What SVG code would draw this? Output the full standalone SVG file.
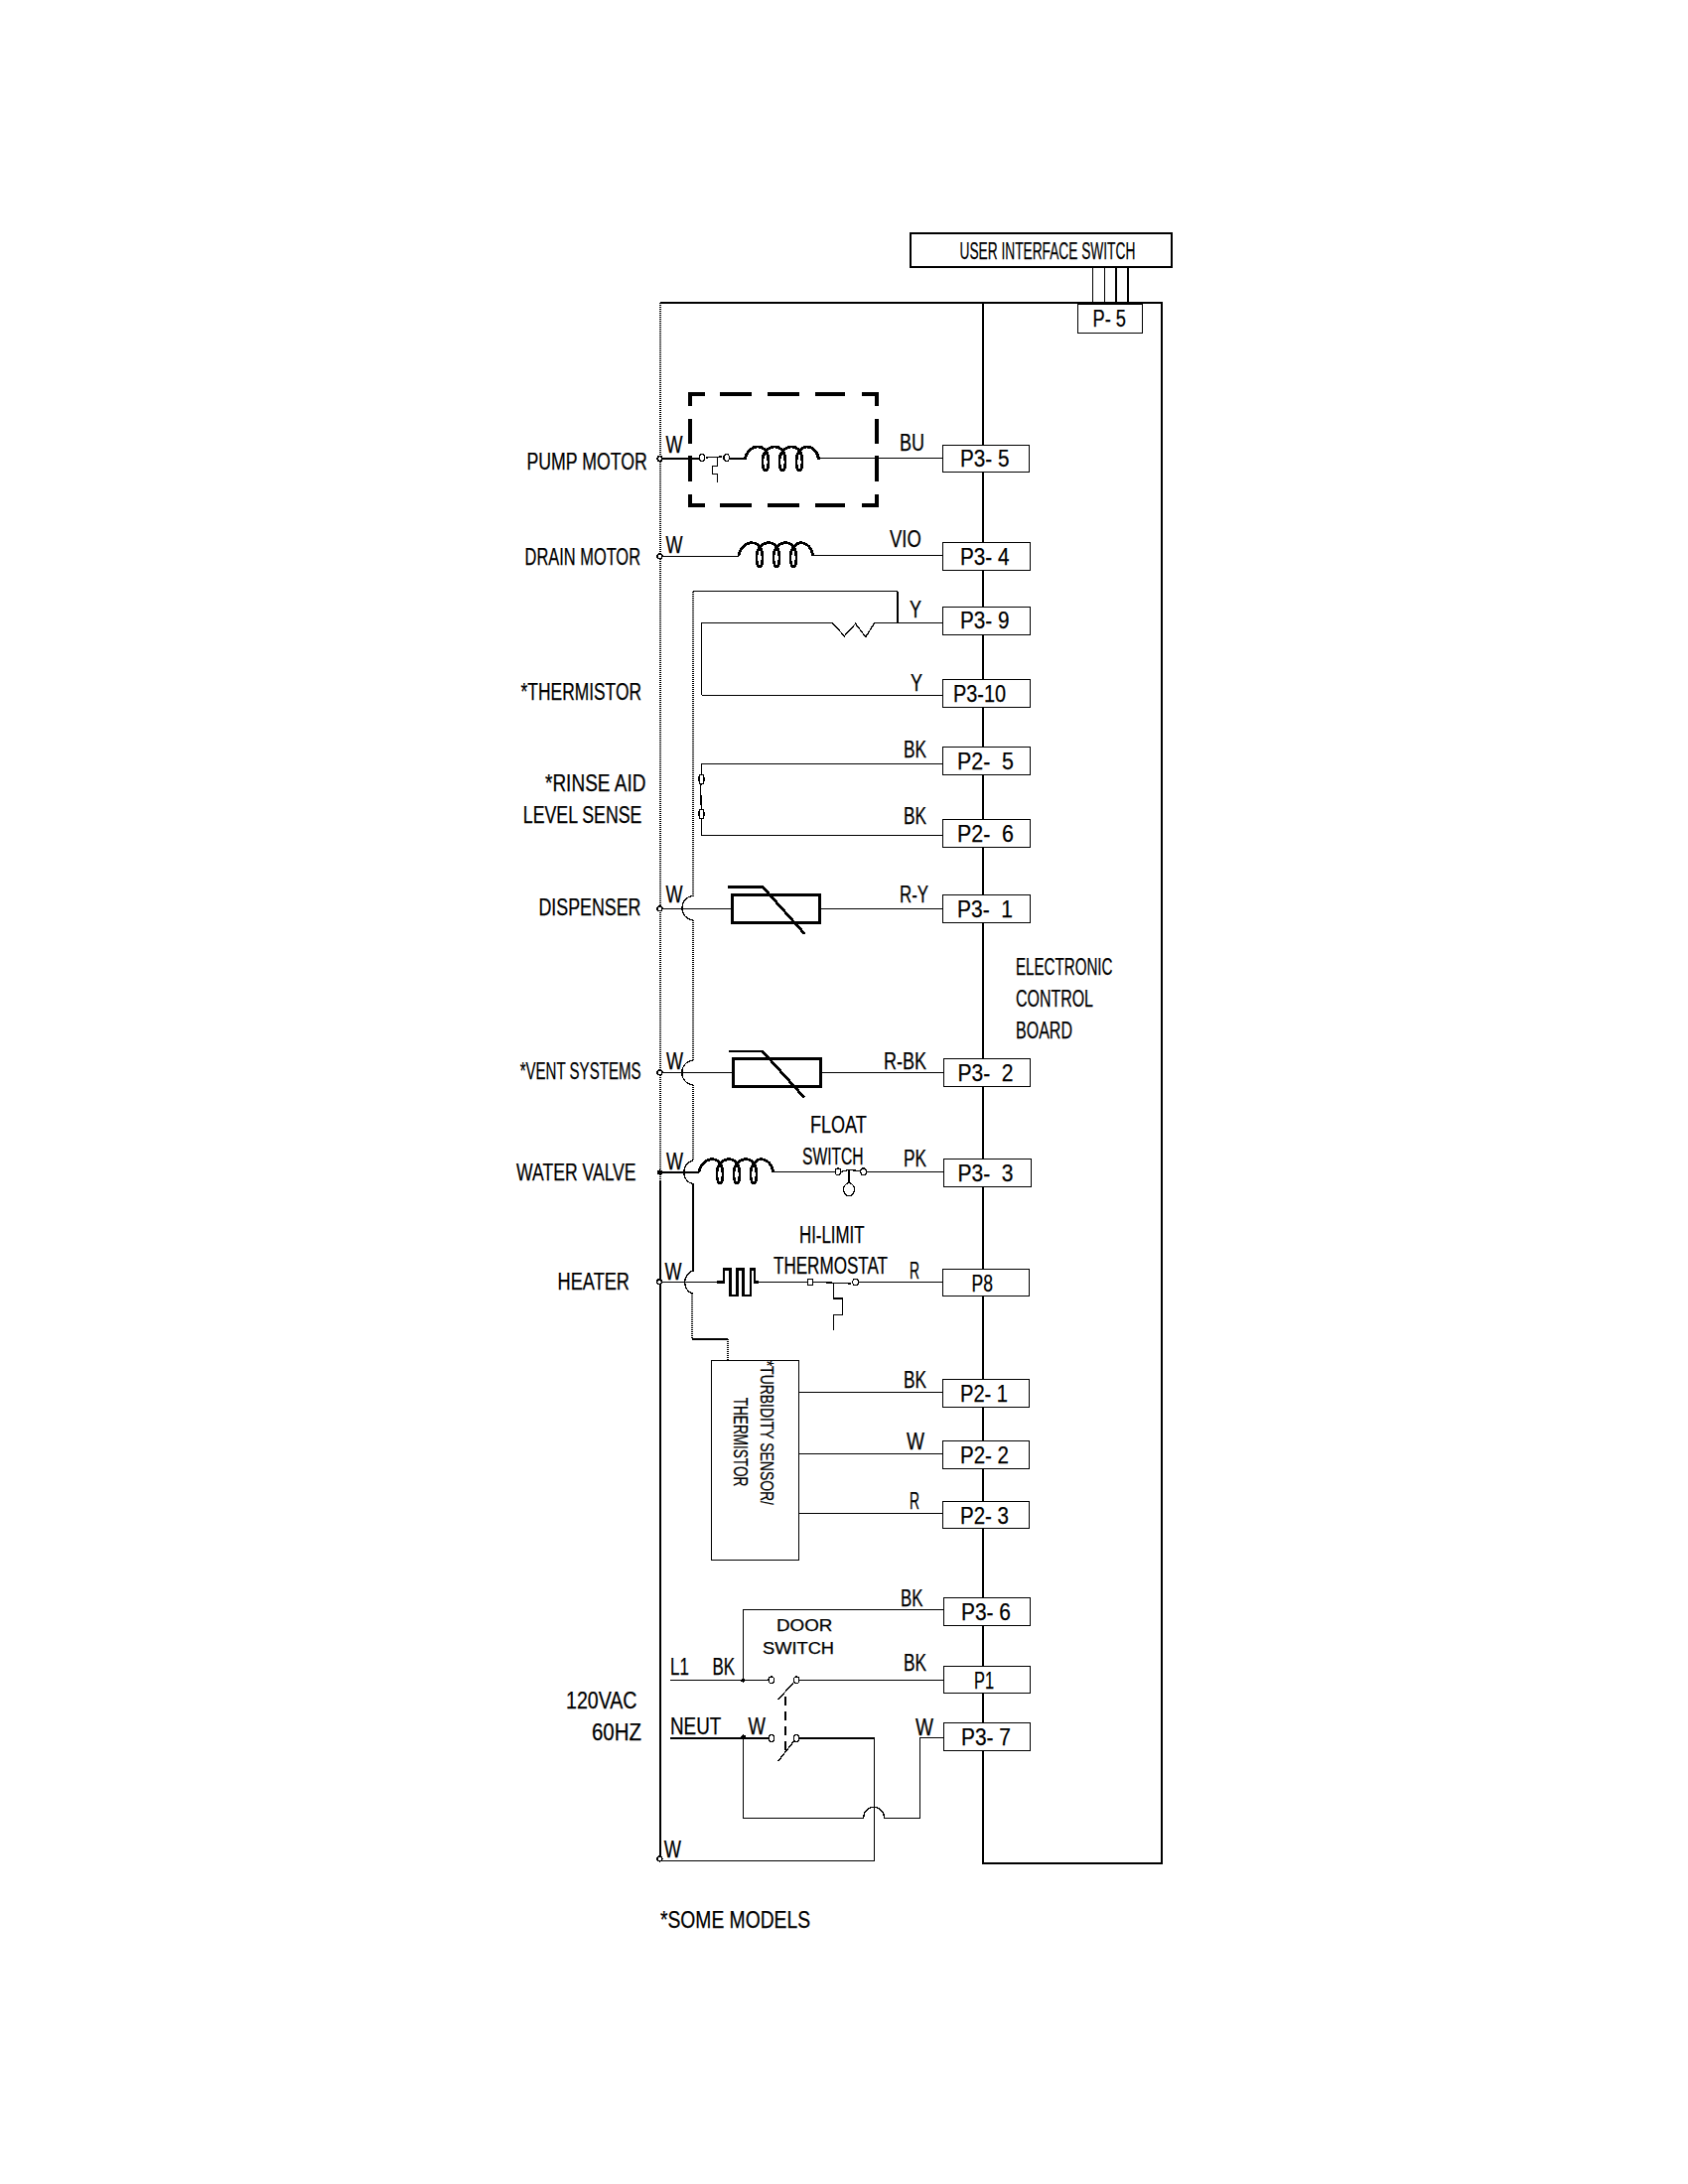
<svg xmlns="http://www.w3.org/2000/svg" width="1700" height="2200" viewBox="0 0 1700 2200" shape-rendering="crispEdges">
<style>
text{font-family:"Liberation Sans",Arial,sans-serif;font-size:23.5px;fill:#000;stroke:#000;stroke-width:.25;white-space:pre}
.s{font-size:17px}
.w{fill:none;stroke:#000;stroke-width:1.3}
.d{fill:none;stroke:#000;stroke-width:2;stroke-dasharray:1 1}
.t{fill:none;stroke:#000;stroke-width:2.8}
.b{fill:#fff;stroke:#000;stroke-width:1.3}
.c{fill:#fff;stroke:#000;stroke-width:1.2}
.j{fill:#fff;stroke:#000;stroke-width:1.5}
</style>
<defs>
<path id="coil" class="t" d="M0,13 C2,4 8,0 13,0 C20,0 24,6 24,15 C24,21 23,24 21,24 C19,24 18,20 18,14 C18,6 24,0 30,0 C37,0 41,6 41,15 C41,21 40,24 38,24 C36,24 35,20 35,14 C35,6 41,0 47,0 C54,0 58,6 58,15 C58,21 57,24 55,24 C53,24 52,20 52,14 C52,6 58,0 62,0 C69,0 74,6 74.5,13"/>
<circle id="term" class="j" r="2.4"/>
</defs>
<rect width="1700" height="2200" fill="#fff"/>
<g id="connectors">
<path class="w" d="M665,305H990"/>
<path class="d" d="M665,305V1190"/>
<path class="w" d="M665,1190V1875"/>
<path class="w" d="M1100.5,269V306M1112.5,269V306M1124,269V306M1136,269V306"/>
<path class="w" d="M665,462H704M711,461L727,460M735,462H750M824.5,461.7H950M722.3,460.7V469.3H717.4V477.3H722.3V485.7"/>
<path class="w" d="M665,560.3H744M818,559.3H950"/>
<path class="w" d="M904,595.7H698"/>
<path class="d" d="M698,595.7V902.7"/>
<path class="w" d="M904,595.7V627.3M706.7,700.3V627.3H838L850.4,640.7L861.6,628.3L871.9,641.7L880.8,627.3H950M706.7,700.3H950"/>
<path class="w" d="M950,769.3H706.7V780M705.5,790L706.3,815M706.7,825V841.3H950"/>
<path class="w" d="M698,902.7A11,12 0 0 0 698,926.7"/>
<path class="d" d="M698,926.7V1068.3"/>
<path class="w" d="M698,1068.3A11,12 0 0 0 698,1092.7"/>
<path class="d" d="M698,1092.7V1169"/>
<path class="w" d="M698,1169A11,12 0 0 0 698,1192.7V1280A11,12 0 0 0 698,1303.3"/>
<path class="d" d="M697,1303.3V1349"/>
<path class="w" d="M697,1349H733"/>
<path class="d" d="M733,1349V1370"/>
<path class="w" d="M665,915.3H737M825,915.3H950"/>
<path class="w" d="M665,1080.3H738M826,1080.3H950"/>
<path class="w" d="M665,1181H704M776.8,1180.3H841M847,1180.3L855,1178.5L866,1179.5M873,1180.3H950M855,1178.5V1192"/>
<path class="w" d="M665,1291.3H722.3M764.3,1291.3H812.5M819,1291.3L857,1293M865,1291.3H950M839.3,1293.3V1308H848.2V1324.3H839.3V1340"/>
<path class="w" d="M804.5,1402.3H950M804.5,1464.3H950M804.5,1524.3H950"/>
<path class="w" d="M950,1621.3H748.2V1692.3M674.6,1692.3H773.7M805.4,1692.3H950M800,1694L783.5,1712.3"/>
<path fill="none" stroke="#000" stroke-width="1.4" stroke-dasharray="9 6" d="M791,1709V1763"/>
<path class="w" d="M674.6,1751H773.7M805.4,1751H880.4V1874.3H664.3M800,1753.3L783.5,1774.3"/>
<path class="w" d="M950,1750.3H926.3V1831.3H890.6A10.5,11 0 0 0 869.6,1831.3H748.7V1751"/>
</g>
<g id="electronic-control-board">
<rect x="990" y="305" width="180" height="1572" fill="none" stroke="#000" stroke-width="2"/>
<text x="1023" y="982.3" textLength="97.5" lengthAdjust="spacingAndGlyphs">ELECTRONIC</text>
<text x="1023" y="1014" textLength="78" lengthAdjust="spacingAndGlyphs">CONTROL</text>
<text x="1023" y="1046" textLength="57" lengthAdjust="spacingAndGlyphs">BOARD</text>
</g>
<g id="user-interface-switch">
<rect x="917" y="235" width="263" height="33.5" fill="#fff" stroke="#000" stroke-width="2"/>
<text x="966.5" y="260.7" textLength="176.8" lengthAdjust="spacingAndGlyphs">USER INTERFACE SWITCH</text>
</g>
<g id="p5"><rect class="b" x="1085.7" y="306.7" width="64.7" height="28.6"/><text x="1100.5" y="329" textLength="33.5" lengthAdjust="spacingAndGlyphs">P- 5</text></g>
<g id="p3-5"><rect class="b" x="949.5" y="448.7" width="87.1" height="26.6"/><text x="967" y="470" textLength="49.5" lengthAdjust="spacingAndGlyphs">P3- 5</text></g>
<g id="p3-4"><rect class="b" x="949.5" y="546.7" width="87.9" height="27.6"/><text x="967" y="568.7" textLength="49.5" lengthAdjust="spacingAndGlyphs">P3- 4</text></g>
<g id="p3-9"><rect class="b" x="949.5" y="611.7" width="87.9" height="27.6"/><text x="967" y="633.3" textLength="49.5" lengthAdjust="spacingAndGlyphs">P3- 9</text></g>
<g id="p3-10"><rect class="b" x="949.5" y="684.3" width="87.9" height="28"/><text x="960" y="707.3" textLength="53" lengthAdjust="spacingAndGlyphs">P3-10</text></g>
<g id="p2-5"><rect class="b" x="949.5" y="752.7" width="87.9" height="27.6"/><text x="964" y="775" textLength="57" lengthAdjust="spacingAndGlyphs">P2-  5</text></g>
<g id="p2-6"><rect class="b" x="949.5" y="825.7" width="87.9" height="27.6"/><text x="964" y="847.7" textLength="57" lengthAdjust="spacingAndGlyphs">P2-  6</text></g>
<g id="p3-1"><rect class="b" x="949.5" y="901.7" width="87.9" height="28"/><text x="964" y="924" textLength="56" lengthAdjust="spacingAndGlyphs">P3-  1</text></g>
<g id="p3-2"><rect class="b" x="950.4" y="1066.7" width="87" height="28"/><text x="964.5" y="1089.3" textLength="56" lengthAdjust="spacingAndGlyphs">P3-  2</text></g>
<g id="p3-3"><rect class="b" x="950.4" y="1167.7" width="88" height="27.6"/><text x="964.5" y="1190" textLength="56" lengthAdjust="spacingAndGlyphs">P3-  3</text></g>
<g id="p8"><rect class="b" x="949.5" y="1278.7" width="87.1" height="27"/><text x="978.6" y="1300.7" textLength="21.4" lengthAdjust="spacingAndGlyphs">P8</text></g>
<g id="p2-1"><rect class="b" x="949.5" y="1389.7" width="87.1" height="27.6"/><text x="967" y="1412.3" textLength="48" lengthAdjust="spacingAndGlyphs">P2- 1</text></g>
<g id="p2-2"><rect class="b" x="949.5" y="1451.7" width="87.1" height="27.6"/><text x="967" y="1474.3" textLength="49" lengthAdjust="spacingAndGlyphs">P2- 2</text></g>
<g id="p2-3"><rect class="b" x="949.5" y="1512.7" width="87.1" height="26.6"/><text x="967" y="1535" textLength="49" lengthAdjust="spacingAndGlyphs">P2- 3</text></g>
<g id="p3-6"><rect class="b" x="950.4" y="1609.7" width="87" height="27.6"/><text x="968" y="1632.3" textLength="50" lengthAdjust="spacingAndGlyphs">P3- 6</text></g>
<g id="p1"><rect class="b" x="950.4" y="1678.3" width="87" height="27.4"/><text x="981" y="1700.7" textLength="20" lengthAdjust="spacingAndGlyphs">P1</text></g>
<g id="p3-7"><rect class="b" x="950.4" y="1735.3" width="87" height="28"/><text x="968" y="1758.3" textLength="50" lengthAdjust="spacingAndGlyphs">P3- 7</text></g>
<g id="pump-motor">
<path fill="none" stroke="#000" stroke-width="4" d="M709.8,396.7H694.6V409M725.4,396.7H756.7M773.2,396.7H804.5M820.5,396.7H851M868.3,396.7H882.6V409M694.6,421.7V446.7M694.6,458.7V485.3M694.6,497.7V509.3H709.8M725.4,509.3H756.7M773.2,509.3H804.5M820.5,509.3H851M868.3,509.3H882.6V497.7M882.6,485.3V458.7M882.6,446.7V421.7"/>
<ellipse class="c" cx="707" cy="461" rx="2.8" ry="3.4"/><ellipse class="c" cx="731.7" cy="461" rx="2.8" ry="3.4"/>
<use href="#coil" x="750" y="450"/>
<use href="#term" x="664.5" y="462"/>
<text x="530.4" y="472.7" textLength="121.4" lengthAdjust="spacingAndGlyphs">PUMP MOTOR</text>
<text x="670.5" y="456" textLength="17" lengthAdjust="spacingAndGlyphs">W</text>
<text x="906" y="454" textLength="25" lengthAdjust="spacingAndGlyphs">BU</text>
</g>
<g id="drain-motor">
<use href="#coil" x="744" y="546.7"/>
<use href="#term" x="664.5" y="560.3"/>
<text x="528.6" y="568.7" textLength="116.4" lengthAdjust="spacingAndGlyphs">DRAIN MOTOR</text>
<text x="670.5" y="556.7" textLength="17" lengthAdjust="spacingAndGlyphs">W</text>
<text x="896" y="551.3" textLength="31.7" lengthAdjust="spacingAndGlyphs">VIO</text>
</g>
<g id="thermistor">
<text x="524.6" y="705" textLength="121.4" lengthAdjust="spacingAndGlyphs">*THERMISTOR</text>
<text x="916" y="621.7" textLength="12" lengthAdjust="spacingAndGlyphs">Y</text>
<text x="917" y="695.7" textLength="12" lengthAdjust="spacingAndGlyphs">Y</text>
</g>
<g id="rinse-aid-level-sense">
<ellipse class="c" cx="706.5" cy="785" rx="2.6" ry="5"/><ellipse class="c" cx="706.5" cy="820" rx="2.6" ry="5"/>
<text x="549" y="797.3" textLength="101.4" lengthAdjust="spacingAndGlyphs">*RINSE AID</text>
<text x="526.8" y="828.7" textLength="119.6" lengthAdjust="spacingAndGlyphs">LEVEL SENSE</text>
<text x="910" y="763.3" textLength="23" lengthAdjust="spacingAndGlyphs">BK</text>
<text x="910" y="830" textLength="23" lengthAdjust="spacingAndGlyphs">BK</text>
</g>
<g id="dispenser">
<rect x="737" y="901.3" width="88" height="27.7" fill="none" stroke="#000" stroke-width="3"/>
<path fill="none" stroke="#000" stroke-width="2.8" d="M733,893.3H768L810.3,940.7"/>
<use href="#term" x="664.5" y="915.3"/>
<text x="542.4" y="921.7" textLength="103.1" lengthAdjust="spacingAndGlyphs">DISPENSER</text>
<text x="670.5" y="909.3" textLength="17" lengthAdjust="spacingAndGlyphs">W</text>
<text x="906" y="909.3" textLength="29" lengthAdjust="spacingAndGlyphs">R-Y</text>
</g>
<g id="vent-systems">
<rect x="738" y="1066.7" width="88" height="28" fill="none" stroke="#000" stroke-width="3"/>
<path fill="none" stroke="#000" stroke-width="2.8" d="M734,1059H768L810,1105.7"/>
<use href="#term" x="664.5" y="1080.3"/>
<text x="523.7" y="1086.7" textLength="121.8" lengthAdjust="spacingAndGlyphs">*VENT SYSTEMS</text>
<text x="671" y="1076.7" textLength="17" lengthAdjust="spacingAndGlyphs">W</text>
<text x="890" y="1076.7" textLength="43" lengthAdjust="spacingAndGlyphs">R-BK</text>
</g>
<g id="water-valve">
<use href="#coil" x="704" y="1167.7"/>
<ellipse class="c" cx="844" cy="1180.3" rx="2.8" ry="3.4"/><ellipse class="c" cx="869.6" cy="1180.3" rx="2.8" ry="3.4"/>
<ellipse class="c" cx="855" cy="1198.3" rx="5.4" ry="6.6"/>
<circle cx="664.5" cy="1181" r="2.6"/>
<text x="520" y="1189" textLength="120.6" lengthAdjust="spacingAndGlyphs">WATER VALVE</text>
<text x="671" y="1178.3" textLength="17" lengthAdjust="spacingAndGlyphs">W</text>
<text x="816" y="1141" textLength="56.8" lengthAdjust="spacingAndGlyphs">FLOAT</text>
<text x="808" y="1173.3" textLength="61.6" lengthAdjust="spacingAndGlyphs">SWITCH</text>
<text x="910" y="1175" textLength="23" lengthAdjust="spacingAndGlyphs">PK</text>
</g>
<g id="heater">
<path fill="none" stroke="#000" stroke-width="2.8" d="M722.3,1291.3H729V1278.3H735.3V1305H742.4V1278.3H748.7V1305H755.9V1278.3H760V1291.3H764.3"/>
<ellipse class="c" cx="816" cy="1291.5" rx="2.8" ry="3.4"/><ellipse class="c" cx="861.6" cy="1291.5" rx="2.8" ry="3.4"/>
<use href="#term" x="664" y="1291.3"/>
<text x="561.6" y="1299.3" textLength="72.4" lengthAdjust="spacingAndGlyphs">HEATER</text>
<text x="669.6" y="1289" textLength="17" lengthAdjust="spacingAndGlyphs">W</text>
<text x="805" y="1251.7" textLength="65.5" lengthAdjust="spacingAndGlyphs">HI-LIMIT</text>
<text x="779" y="1283.3" textLength="115" lengthAdjust="spacingAndGlyphs">THERMOSTAT</text>
<text x="916" y="1288.3" textLength="10" lengthAdjust="spacingAndGlyphs">R</text>
</g>
<g id="turbidity-sensor">
<rect x="716.5" y="1370.3" width="88" height="201" fill="#fff" stroke="#000" stroke-width="1.4"/>
<text style="font-size:19px" transform="translate(765.6,1370.7) rotate(90)" textLength="145.3" lengthAdjust="spacingAndGlyphs">*TURBIDITY SENSOR/</text>
<text style="font-size:20px" transform="translate(738.8,1407.7) rotate(90)" textLength="89.6" lengthAdjust="spacingAndGlyphs">THERMISTOR</text>
<text x="910" y="1398.3" textLength="23" lengthAdjust="spacingAndGlyphs">BK</text>
<text x="913" y="1460" textLength="18" lengthAdjust="spacingAndGlyphs">W</text>
<text x="916" y="1520" textLength="10" lengthAdjust="spacingAndGlyphs">R</text>
</g>
<g id="door-switch">
<ellipse class="c" cx="776.8" cy="1692.3" rx="2.8" ry="3.4"/><ellipse class="c" cx="802.2" cy="1692.3" rx="2.8" ry="3.4"/>
<ellipse class="c" cx="776.8" cy="1751" rx="2.8" ry="3.4"/><ellipse class="c" cx="802.2" cy="1751" rx="2.8" ry="3.4"/>
<circle cx="748.4" cy="1692.6" r="2.2"/><circle cx="748.7" cy="1749.5" r="2.2"/>
<text class="s" x="782" y="1643.3" textLength="56.4" lengthAdjust="spacingAndGlyphs">DOOR</text>
<text class="s" x="768" y="1666" textLength="72" lengthAdjust="spacingAndGlyphs">SWITCH</text>
<text x="907" y="1618" textLength="22.5" lengthAdjust="spacingAndGlyphs">BK</text>
<text x="910" y="1683.3" textLength="23" lengthAdjust="spacingAndGlyphs">BK</text>
<text x="922" y="1748.3" textLength="18" lengthAdjust="spacingAndGlyphs">W</text>
</g>
<g id="power-supply">
<use href="#term" x="664.5" y="1872.5"/>
<text x="570" y="1721" textLength="71.5" lengthAdjust="spacingAndGlyphs">120VAC</text>
<text x="596" y="1752.7" textLength="50" lengthAdjust="spacingAndGlyphs">60HZ</text>
<text x="675" y="1686.7" textLength="18.8" lengthAdjust="spacingAndGlyphs">L1</text>
<text x="717.4" y="1686.7" textLength="22.6" lengthAdjust="spacingAndGlyphs">BK</text>
<text x="675" y="1746.7" textLength="51.3" lengthAdjust="spacingAndGlyphs">NEUT</text>
<text x="753.6" y="1746.7" textLength="17.4" lengthAdjust="spacingAndGlyphs">W</text>
<text x="668.8" y="1870.7" textLength="17.2" lengthAdjust="spacingAndGlyphs">W</text>
</g>
<g id="note"><text x="665" y="1941.7" textLength="151" lengthAdjust="spacingAndGlyphs">*SOME MODELS</text></g>
</svg>
